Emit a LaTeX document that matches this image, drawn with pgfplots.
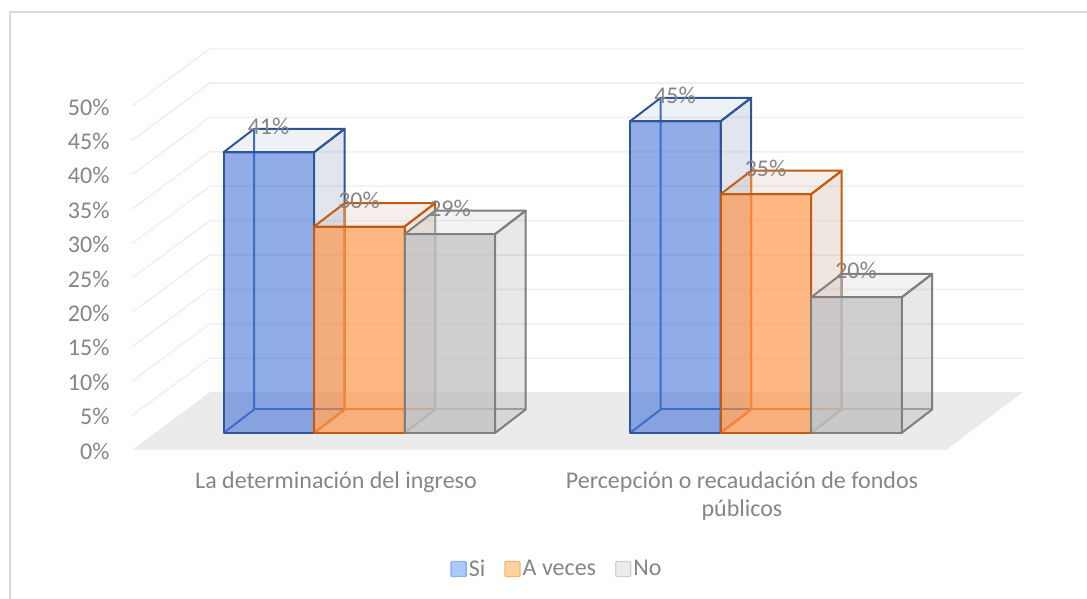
\documentclass[border=0pt]{standalone}
\usepackage{pgfplots}
\pgfplotsset{compat=1.18}
\usepackage{fontspec}
\setmainfont{Carlito}
\definecolor{txt}{HTML}{858585}
\definecolor{gridc}{HTML}{F0F0F0}
\definecolor{floorc}{HTML}{EBEBEB}
\definecolor{bluefill}{RGB}{60,110,215}
\definecolor{blueside}{RGB}{100,125,170}
\definecolor{blueedge}{HTML}{2F5597}
\definecolor{blueinner}{HTML}{3F6CB8}
\definecolor{orangefill}{RGB}{255,139,56}
\definecolor{orangeside}{RGB}{180,130,100}
\definecolor{orangeedge}{HTML}{C55A11}
\definecolor{orangeinner}{HTML}{ED7D31}
\definecolor{grayfill}{RGB}{190,190,190}
\definecolor{grayside}{RGB}{128,128,128}
\definecolor{grayedge}{HTML}{7F7F7F}
\definecolor{grayinner}{HTML}{A5A5A5}
\definecolor{legbd}{HTML}{8FB0E8}
\definecolor{legbf}{HTML}{A9CBFB}
\definecolor{legod}{HTML}{F8B57A}
\definecolor{legof}{HTML}{FFD39E}
\definecolor{leggd}{HTML}{D0D0D0}
\definecolor{leggf}{HTML}{EDEDED}
\pgfplotsset{
  bface/.style={forget plot, no markers, y filter/.expression={y+2.47}, line join=round},
}
% x0, x1, value, colour prefix, front opacity, side opacity, top opacity
\newcommand{\tdbar}[7]{%
  \pgfmathsetmacro\xa{#1+30.7}%
  \pgfmathsetmacro\xb{#2+30.7}%
  \pgfmathsetmacro\vb{#3+3.42}%
  % hidden edges
  \addplot[bface, draw=#4inner, line width=2pt] coordinates {(#1,0)(\xa,3.42)(\xa,\vb)};
  \addplot[bface, draw=#4inner, line width=2pt] coordinates {(\xa,3.42)(\xb,3.42)};
  % right face
  \addplot[bface, draw=#4edge, line width=2pt, fill=#4side, fill opacity=#6] coordinates {(#2,0)(\xb,3.42)(\xb,\vb)(#2,#3)} --cycle;
  % top face
  \addplot[bface, draw=#4edge, line width=2pt, fill=#4side, fill opacity=#7] coordinates {(#1,#3)(#2,#3)(\xb,\vb)(\xa,\vb)} --cycle;
  % front face
  \addplot[bface, draw=#4edge, line width=2pt, fill=#4fill, fill opacity=#5] coordinates {(#1,0)(#1,#3)(#2,#3)(#2,0)} --cycle;
}
\begin{document}
\begin{tikzpicture}[x=1pt,y=1pt]
\path[use as bounding box] (0,0) rectangle (1087,599);
\draw[draw=black!14, line width=1.6pt] (1087,587) -- (10,587) -- (10,0);
\begin{axis}[
  at={(130pt,149pt)}, anchor=south west,
  scale only axis, width=894pt, height=344pt,
  xmin=130, xmax=1024, ymin=0, ymax=50,
  clip=false,
  axis line style={draw=none},
  major tick length=0pt,
  ytick={0,5,...,50},
  yticklabel={\pgfmathprintnumber{\tick}\%},
  /pgf/number format/assume math mode=true,
  yticklabel style={font=\fontsize{24}{24}\selectfont, text=txt, anchor=east, xshift=-17pt, yshift=-1pt},
  xtick={336,742},
  xticklabels={La determinación del ingreso,{Percepción o recaudación de fondos\\públicos}},
  xticklabel style={font=\fontsize{24}{28}\selectfont, text=txt, align=center, anchor=north, yshift=-18pt},
  legend columns=3,
  legend style={at={(0.4776,-0.346)}, anchor=center, draw=none, fill=none,
    font=\fontsize{24}{24}\selectfont, text=txt,
    /tikz/every even column/.style={column sep=17pt},
    legend cell align=left},
  legend image code/.code={\draw[#1, line width=1.4pt, rounded corners=1pt] (0pt,-7.5pt) rectangle (15pt,7.5pt);},
]
% left and back walls
\addplot[forget plot, no markers, draw=gridc, line width=1.6pt] coordinates {(132,5)(210,13.35)(1024,13.35)};
\addplot[forget plot, no markers, draw=gridc, line width=1.6pt] coordinates {(132,10)(210,18.35)(1024,18.35)};
\addplot[forget plot, no markers, draw=gridc, line width=1.6pt] coordinates {(132,15)(210,23.35)(1024,23.35)};
\addplot[forget plot, no markers, draw=gridc, line width=1.6pt] coordinates {(132,20)(210,28.35)(1024,28.35)};
\addplot[forget plot, no markers, draw=gridc, line width=1.6pt] coordinates {(132,25)(210,33.35)(1024,33.35)};
\addplot[forget plot, no markers, draw=gridc, line width=1.6pt] coordinates {(132,30)(210,38.35)(1024,38.35)};
\addplot[forget plot, no markers, draw=gridc, line width=1.6pt] coordinates {(132,35)(210,43.35)(1024,43.35)};
\addplot[forget plot, no markers, draw=gridc, line width=1.6pt] coordinates {(132,40)(210,48.35)(1024,48.35)};
\addplot[forget plot, no markers, draw=gridc, line width=1.6pt] coordinates {(132,45)(210,53.35)(1024,53.35)};
\addplot[forget plot, no markers, draw=gridc, line width=1.6pt] coordinates {(132,50)(210,58.35)(1024,58.35)};
% floor
\addplot[forget plot, no markers, draw=none, fill=floorc] coordinates {(132,0)(210,8.4)(1023,8.4)(946,0)} --cycle;
% bars
\tdbar{223.5}{314}{40.8}{blue}{0.57}{0.20}{0.11}
\tdbar{314}{404.5}{30}{orange}{0.62}{0.20}{0.13}
\tdbar{404.5}{495}{28.9}{gray}{0.74}{0.18}{0.10}
\tdbar{630}{720.5}{45.3}{blue}{0.57}{0.20}{0.11}
\tdbar{720.5}{811}{34.7}{orange}{0.62}{0.20}{0.13}
\tdbar{811}{901.5}{19.7}{gray}{0.74}{0.18}{0.10}
% data labels
\addplot[forget plot, only marks, mark=none, point meta=explicit,
  y filter/.expression={y+2.47},
  nodes near coords={\pgfmathprintnumber{\pgfplotspointmeta}\%},
  nodes near coords style={anchor=center, font=\fontsize{24}{24}\selectfont, text=txt, /pgf/number format/assume math mode=true}]
  table[x=x, y=y, meta=lab] {
x y lab
268.5 44.6 41
359 33.8 30
450 32.7 29
675 49.1 45
765.5 38.5 35
856 23.6 20
};
% legend
\addlegendimage{draw=legbd, fill=legbf}
\addlegendentry{Si}
\addlegendimage{draw=legod, fill=legof}
\addlegendentry{A veces}
\addlegendimage{draw=leggd, fill=leggf}
\addlegendentry{No}
\end{axis}
\end{tikzpicture}
\end{document}
